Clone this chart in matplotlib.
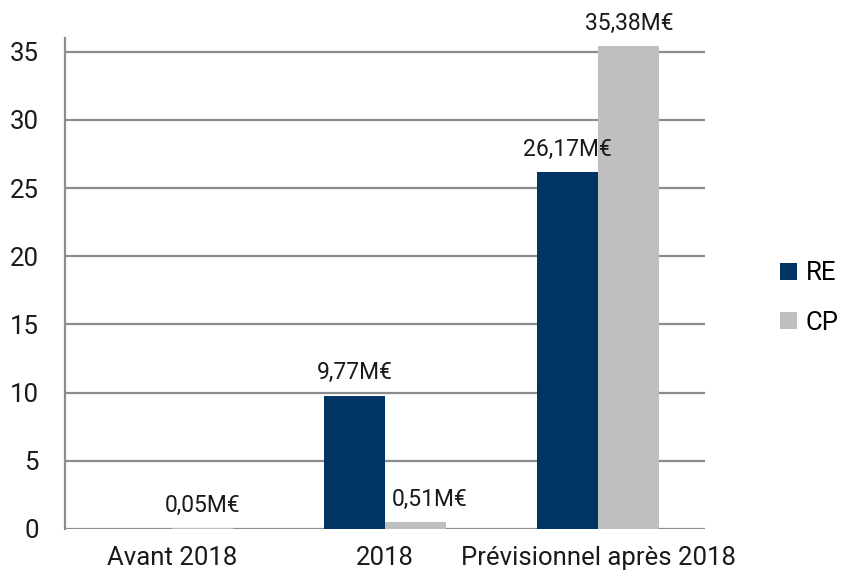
import numpy as np
import matplotlib
matplotlib.use('Agg')
import matplotlib.pyplot as plt
from matplotlib.patches import Patch

plt.rcParams['font.family'] = ['Roboto', 'DejaVu Sans']

# data
categories = ['Avant 2018', '2018', 'Prévisionnel après 2018']
re_values = [0.0, 9.77, 26.17]
cp_values = [0.05, 0.51, 35.38]
re_labels = [None, '9,77M€', '26,17M€']
cp_labels = ['0,05M€', '0,51M€', '35,38M€']

navy = '#003462'
grey = '#BFBFBF'
grid_col = '#8C8C8C'

fig = plt.figure(figsize=(8.52, 5.85), dpi=100)
ax = fig.add_axes([65 / 852, 1 - 529 / 585, 640 / 852, 491 / 585])

x = np.arange(len(categories))
w = 0.286
ax.bar(x - w / 2, re_values, w, color=navy, zorder=3)
ax.bar(x + w / 2, cp_values, w, color=grey, zorder=3)

# value labels
for i, lab in enumerate(re_labels):
    if lab:
        ax.annotate(lab, (x[i] - w / 2, re_values[i]), xytext=(0, 16.5),
                    textcoords='offset points', ha='center', va='center',
                    fontsize=16.5, color='#1a1a1a')
for i, lab in enumerate(cp_labels):
    dx = 10 if i == 1 else 0
    ax.annotate(lab, (x[i] + w / 2, cp_values[i]), xytext=(dx, 16.5),
                textcoords='offset points', ha='center', va='center',
                fontsize=16.5, color='#1a1a1a')

ax.set_xlim(-0.5, 2.5)
ax.set_ylim(0, 36)
ax.set_yticks(range(0, 36, 5))
ax.set_xticks(x)
ax.set_xticklabels(categories)
ax.tick_params(axis='both', length=0, labelsize=18.5, colors='#1a1a1a')
ax.tick_params(axis='y', pad=19)
ax.tick_params(axis='x', pad=12)

ax.grid(axis='y', color=grid_col, linewidth=1.6, zorder=0)
for s in ['top', 'right', 'bottom']:
    ax.spines[s].set_visible(False)
ax.spines['left'].set_color(grid_col)
ax.spines['left'].set_linewidth(1.6)

handles = [Patch(facecolor=navy, label='RE'), Patch(facecolor=grey, label='CP')]
fig.legend(handles=handles, loc='center left', bbox_to_anchor=(770 / 852, 1 - 298 / 585),
           frameon=False, fontsize=18.5, handlelength=0.65, handleheight=0.65,
           handletextpad=0.35, labelspacing=1.0, borderaxespad=0)

fig.savefig('out.png', dpi=100)
